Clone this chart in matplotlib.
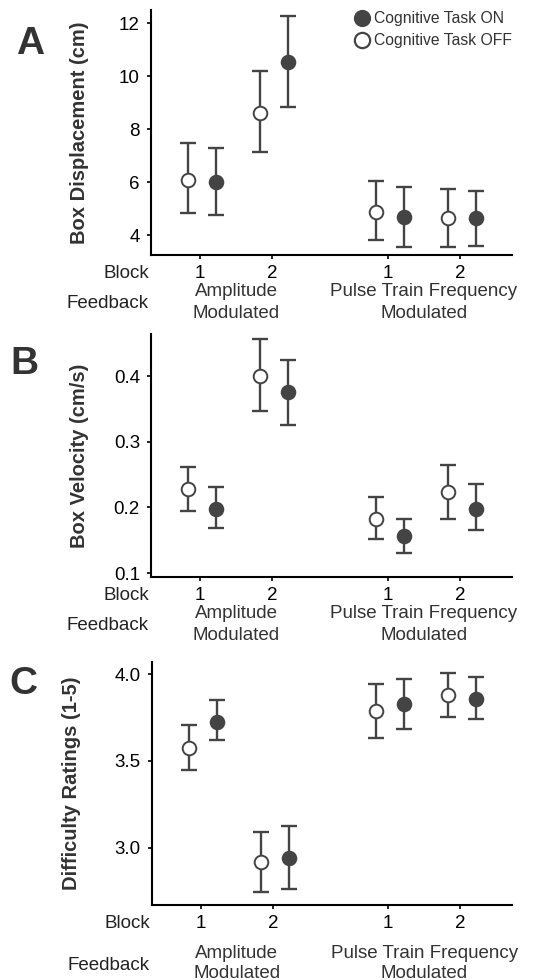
"""Three-panel dot/error-bar figure: box displacement, velocity and difficulty
ratings for each feedback type and block, cognitive task ON vs OFF.

Saves out.png.
"""
import matplotlib
matplotlib.use("Agg")
import matplotlib.pyplot as plt
from matplotlib.lines import Line2D

plt.rcParams["font.family"] = ["Liberation Sans", "DejaVu Sans"]

DARK = "#444444"
OUTPUT_PLOT = "out.png"

# x layout: block 1, block 2 for each feedback type
block_pos = [1.0, 2.0, 3.6, 4.6]
block_labels = ["1", "2", "1", "2"]
feedback_pos = [1.5, 4.1]
feedback_top = ["Amplitude", "Pulse Train Frequency"]
feedback_bottom = ["Modulated", "Modulated"]

# A: box displacement (cm), mean and error-bar ends
disp_off = [6.10, 8.62, 4.88, 4.63]
disp_off_lo = [4.84, 7.12, 3.81, 3.56]
disp_off_hi = [7.46, 10.19, 6.06, 5.74]
disp_on = [6.00, 10.52, 4.67, 4.63]
disp_on_lo = [4.75, 8.82, 3.54, 3.60]
disp_on_hi = [7.30, 12.28, 5.81, 5.66]

# B: box velocity (cm/s)
vel_off = [0.228, 0.400, 0.182, 0.224]
vel_off_lo = [0.195, 0.347, 0.152, 0.183]
vel_off_hi = [0.261, 0.456, 0.216, 0.265]
vel_on = [0.198, 0.375, 0.156, 0.198]
vel_on_lo = [0.169, 0.325, 0.131, 0.165]
vel_on_hi = [0.231, 0.425, 0.183, 0.236]

# C: difficulty ratings (1-5)
diff_off = [3.574, 2.916, 3.785, 3.877]
diff_off_lo = [3.449, 2.743, 3.635, 3.752]
diff_off_hi = [3.708, 3.088, 3.942, 4.006]
diff_on = [3.727, 2.940, 3.829, 3.858]
diff_on_lo = [3.618, 2.764, 3.683, 3.741]
diff_on_hi = [3.852, 3.127, 3.973, 3.985]

FIG_W, FIG_H = 541, 980


def draw_series(ax, dx, mean, lo, hi, filled):
    x = [p + dx for p in block_pos]
    yerr = [[m - l for m, l in zip(mean, lo)], [h - m for m, h in zip(mean, hi)]]
    ax.errorbar(x, mean, yerr=yerr, fmt="none", ecolor=DARK, elinewidth=1.7,
                capsize=5.5, capthick=1.7, zorder=2)
    ax.plot(x, mean, "o", ls="none", ms=9.8, mec=DARK, mew=1.4,
            mfc=DARK if filled else "white", zorder=3)


def panel(rect_px, letter, letter_x, ylabel, ylabel_x, ylim, yticks, yfmt,
          off, on, offsets):
    left, top, right, bottom = rect_px
    fig = plt.gcf()
    ax = fig.add_axes([left / FIG_W, 1 - bottom / FIG_H,
                       (right - left) / FIG_W, (bottom - top) / FIG_H])
    draw_series(ax, -0.17, *off, filled=False)
    draw_series(ax, 0.22, *on, filled=True)

    ax.set_xlim(0.32, 5.32)
    ax.set_ylim(*ylim)
    ax.set_yticks(yticks)
    ax.set_yticklabels([yfmt.format(v) for v in yticks])
    ax.set_xticks(block_pos)
    ax.set_xticklabels(block_labels)
    for side in ("top", "right"):
        ax.spines[side].set_visible(False)
    for side in ("left", "bottom"):
        ax.spines[side].set_linewidth(1.5)
    ax.tick_params(axis="both", labelsize=13.5, length=3, width=1.2,
                   colors="black", pad=4)
    ax.tick_params(axis="y", pad=5)
    ax.set_ylabel(ylabel, fontsize=14.5, fontweight="bold", color="#333333")
    ax.yaxis.set_label_coords(ylabel_x, 0.5)

    blk, amp, mod, fb = offsets
    ax.annotate("Block", xy=(0, 0), xycoords="axes fraction",
                xytext=(-2, -blk), textcoords="offset pixels",
                ha="right", va="center", fontsize=13.5, color="#222222")
    ax.annotate("Feedback", xy=(0, 0), xycoords="axes fraction",
                xytext=(-2, -fb), textcoords="offset pixels",
                ha="right", va="center", fontsize=13.5, color="#222222")
    for xp, t1, t2 in zip(feedback_pos, feedback_top, feedback_bottom):
        ax.annotate(t1, xy=(xp, 0), xycoords=("data", "axes fraction"),
                    xytext=(0, -amp), textcoords="offset pixels",
                    ha="center", va="center", fontsize=13.5, color="#333333")
        ax.annotate(t2, xy=(xp, 0), xycoords=("data", "axes fraction"),
                    xytext=(0, -mod), textcoords="offset pixels",
                    ha="center", va="center", fontsize=13.5, color="#333333")

    fig.text(letter_x[0] / FIG_W, 1 - letter_x[1] / FIG_H, letter,
             fontsize=28, fontweight="bold", color="#333333",
             ha="center", va="center")
    return ax


def main():
    fig = plt.figure(figsize=(FIG_W / 100, FIG_H / 100), dpi=100)

    ax_a = panel((151, 10, 512, 255), "A", (30, 44), "Box Displacement (cm)", -0.172,
                 (3.25, 12.5), [4, 6, 8, 10, 12], "{:g}",
                 (disp_off, disp_off_lo, disp_off_hi),
                 (disp_on, disp_on_lo, disp_on_hi), (18, 36, 58, 48))
    panel((151, 334, 512, 577), "B", (24, 364), "Box Velocity (cm/s)", -0.172,
          (0.094, 0.464), [0.1, 0.2, 0.3, 0.4], "{:.1f}",
          (vel_off, vel_off_lo, vel_off_hi),
          (vel_on, vel_on_lo, vel_on_hi), (19, 37, 58, 49))
    panel((152, 662, 512, 905), "C", (23, 684), "Difficulty Ratings (1-5)", -0.197,
          (2.67, 4.07), [3.0, 3.5, 4.0], "{:.1f}",
          (diff_off, diff_off_lo, diff_off_hi),
          (diff_on, diff_on_lo, diff_on_hi), (18, 48, 68, 60))

    handles = [
        Line2D([], [], ls="none", marker="o", ms=11, mfc=DARK, mec=DARK, mew=1.4),
        Line2D([], [], ls="none", marker="o", ms=11, mfc="white", mec=DARK, mew=1.6),
    ]
    ax_a.legend(handles, ["Cognitive Task ON", "Cognitive Task OFF"],
                loc="upper left", bbox_to_anchor=(0.563, 0.994), frameon=False,
                fontsize=11.3, handlelength=1.0, handletextpad=0.25,
                labelspacing=0.42, borderpad=0, borderaxespad=0,
                labelcolor="#333333")

    fig.savefig(OUTPUT_PLOT, dpi=100)


if __name__ == "__main__":
    main()
